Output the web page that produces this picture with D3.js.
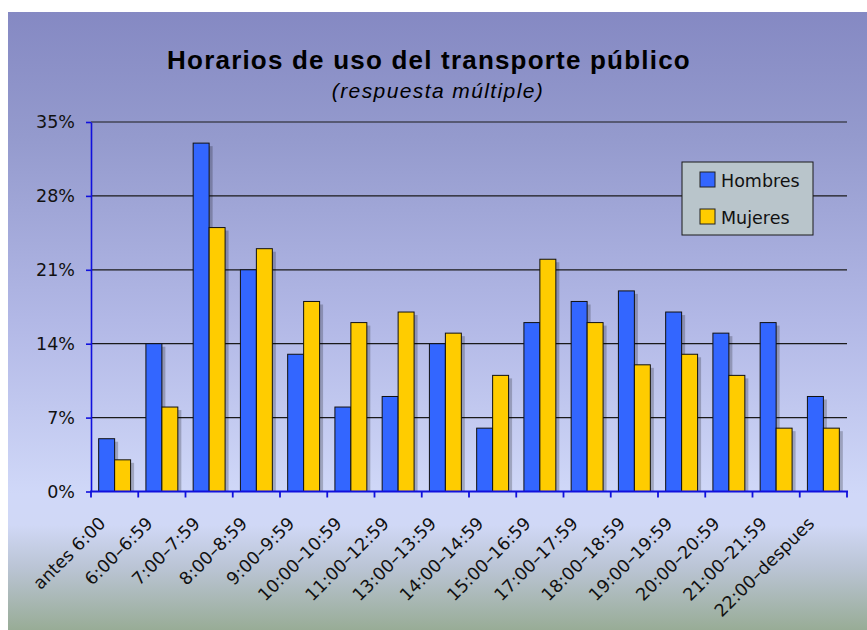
<!DOCTYPE html>
<html>
<head>
<meta charset="utf-8">
<script src="https://cdn.jsdelivr.net/npm/d3@7"></script>
<style>
  body { margin: 0; background: #fff; }
  svg { display: block; }
</style>
</head>
<body>
<svg width="867" height="630"></svg>
<script>
var categories = ["antes 6:00", "6:00–6:59", "7:00–7:59", "8:00–8:59", "9:00–9:59",
  "10:00–10:59", "11:00–12:59", "13:00–13:59", "14:00–14:59", "15:00–16:59",
  "17:00–17:59", "18:00–18:59", "19:00–19:59", "20:00–20:59", "21:00–21:59", "22:00–despues"];
var series = ["Hombres", "Mujeres"];
var hombres = [5, 14, 33, 21, 13, 8, 9, 14, 6, 16, 18, 19, 17, 15, 16, 9];
var mujeres = [3, 8, 25, 23, 18, 16, 17, 15, 11, 22, 16, 12, 13, 11, 6, 6];
var yTicks = [0, 7, 14, 21, 28, 35];
var colors = ["#3366ff", "#ffcc00"];

var svg = d3.select("svg");

// background gradient
var defs = svg.append("defs");
var grad = defs.append("linearGradient")
    .attr("id", "bg")
    .attr("x1", 0).attr("y1", 0).attr("x2", 0).attr("y2", 1);
[[0, "#8589c3"], [0.2, "#949acd"], [0.5, "#b2b8e6"], [0.78, "#d0d8f8"], [0.83, "#d0d8f6"],
 [0.9, "#bac4d4"], [1, "#98ac96"]].forEach(function(s) {
  grad.append("stop").attr("offset", s[0]).attr("stop-color", s[1]);
});

svg.append("rect")
    .attr("x", 8).attr("y", 12)
    .attr("width", 859).attr("height", 618)
    .attr("fill", "url(#bg)");

var x = d3.scaleBand()
    .domain(categories)
    .range([91, 847]);

var xs = d3.scaleBand()
    .domain(series)
    .range([0, x.bandwidth()])
    .paddingOuter(0.48);

var y = d3.scaleLinear()
    .domain([0, 35])
    .range([491.5, 122]);

// gridlines
svg.append("g")
    .selectAll("line")
    .data(yTicks.filter(function(d) { return d > 0; }))
    .enter().append("line")
      .attr("x1", 91).attr("x2", 847)
      .attr("y1", function(d) { return y(d); })
      .attr("y2", function(d) { return y(d); })
      .attr("stroke", "#1a1a1a")
      .attr("stroke-width", 1.2);

// bars
var groups = svg.append("g")
  .selectAll("g")
  .data(categories)
  .enter().append("g")
    .attr("transform", function(d) { return "translate(" + x(d) + ",0)"; });

var rows = function(d, i) {
  return [{s: "Hombres", v: hombres[i], c: colors[0]}, {s: "Mujeres", v: mujeres[i], c: colors[1]}];
};

groups.selectAll("rect.shadow")
  .data(rows)
  .enter().append("rect")
    .attr("class", "shadow")
    .attr("x", function(d) { return xs(d.s) + 3.5; })
    .attr("y", function(d) { return y(d.v) + 3; })
    .attr("width", xs.bandwidth())
    .attr("height", function(d) { return Math.max(0, y(0) - y(d.v) - 3); })
    .attr("fill", "#000")
    .attr("fill-opacity", 0.22);

groups.selectAll("rect.bar")
  .data(rows)
  .enter().append("rect")
    .attr("class", "bar")
    .attr("x", function(d) { return xs(d.s); })
    .attr("y", function(d) { return y(d.v); })
    .attr("width", xs.bandwidth())
    .attr("height", function(d) { return y(0) - y(d.v); })
    .attr("fill", function(d) { return d.c; })
    .attr("stroke", "#111")
    .attr("stroke-width", 1);

// y axis
var yAxis = svg.append("g")
    .attr("transform", "translate(91,0)")
    .call(d3.axisLeft(y).tickValues(yTicks).tickSize(5).tickSizeOuter(0)
      .tickFormat(function(d) { return d + "%"; }));
yAxis.select(".domain").attr("stroke", "#1010dd").attr("stroke-width", 1.6);
yAxis.selectAll(".tick line").attr("stroke", "#1010dd").attr("stroke-width", 1.6);
yAxis.selectAll(".tick text")
    .attr("x", -16)
    .attr("fill", "#111")
    .style("font-family", "DejaVu Sans")
    .style("font-size", "17.5px");

// x axis
var edges = categories.map(function(c) { return x(c); }).concat([x.range()[1]]);
var xAxis = svg.append("g");
xAxis.append("line")
    .attr("x1", 90).attr("x2", 848)
    .attr("y1", y(0)).attr("y2", y(0))
    .attr("stroke", "#1010dd")
    .attr("stroke-width", 2);
xAxis.selectAll("line.tick")
  .data(edges)
  .enter().append("line")
    .attr("class", "tick")
    .attr("x1", function(d) { return d; }).attr("x2", function(d) { return d; })
    .attr("y1", y(0)).attr("y2", y(0) + 6)
    .attr("stroke", "#1010dd")
    .attr("stroke-width", 1.8);
xAxis.selectAll("text")
  .data(categories)
  .enter().append("text")
    .attr("transform", function(d) {
      return "translate(" + (x(d) + x.bandwidth() / 2 - 8) + "," + (y(0) + 33) + ") rotate(-45)";
    })
    .attr("text-anchor", "end")
    .attr("fill", "#111")
    .style("font-family", "DejaVu Sans")
    .style("font-size", "17.5px")
    .text(function(d) { return d; });

// title
svg.append("text")
    .attr("x", 429).attr("y", 69)
    .attr("text-anchor", "middle")
    .style("font-family", "Liberation Sans, Arial, sans-serif")
    .style("font-weight", "bold")
    .style("font-size", "26px")
    .style("letter-spacing", "1.2px")
    .text("Horarios de uso del transporte público");
svg.append("text")
    .attr("x", 438).attr("y", 98)
    .attr("text-anchor", "middle")
    .style("font-family", "Liberation Sans, Arial, sans-serif")
    .style("font-style", "italic")
    .style("font-size", "21px")
    .style("letter-spacing", "1.4px")
    .text("(respuesta múltiple)");

// legend
var legend = svg.append("g").attr("transform", "translate(682,162)");
legend.append("rect")
    .attr("width", 131).attr("height", 73)
    .attr("fill", "#b9c5cb")
    .attr("stroke", "#1a1a1a")
    .attr("stroke-width", 1);
var items = legend.selectAll("g")
  .data(series)
  .enter().append("g")
    .attr("transform", function(d, i) { return "translate(18," + (10 + i * 37) + ")"; });
items.append("rect")
    .attr("width", 15).attr("height", 15)
    .attr("fill", function(d, i) { return colors[i]; })
    .attr("stroke", "#222");
items.append("text")
    .attr("x", 21).attr("y", 14.5)
    .attr("fill", "#111")
    .style("font-family", "DejaVu Sans")
    .style("font-size", "17.5px")
    .text(function(d) { return d; });
</script>
</body>
</html>
